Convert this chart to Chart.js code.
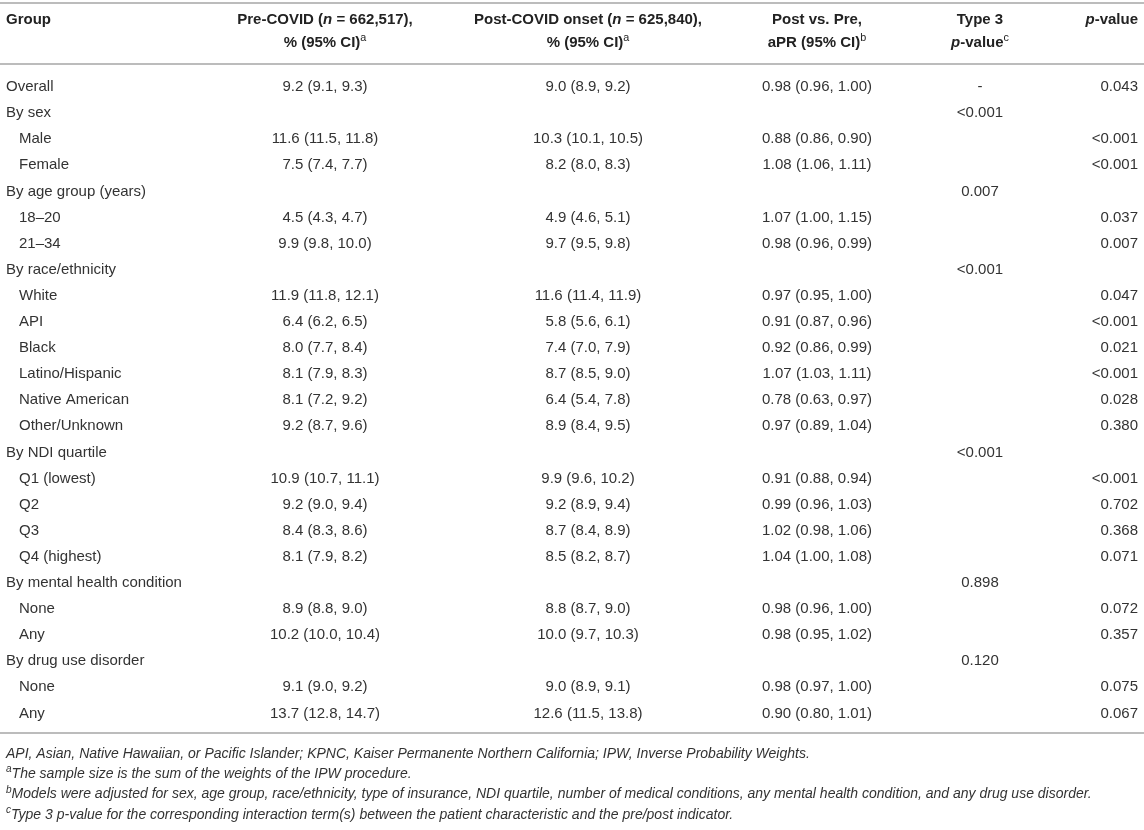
<!DOCTYPE html>
<html>
<head>
<meta charset="utf-8">
<script src="https://cdn.jsdelivr.net/npm/chart.js@4.4.1/dist/chart.umd.min.js"></script>
<style>
  html, body { margin: 0; padding: 0; background: #fff; }
  #wrap { width: 1144px; height: 830px; }
</style>
</head>
<body>
<div id="wrap"><canvas id="tableChart" width="1144" height="830"></canvas></div>
<script>
// rows of the table
const groups = ['Overall', 'By sex', 'Male', 'Female', 'By age group (years)', '18–20', '21–34',
  'By race/ethnicity', 'White', 'API', 'Black', 'Latino/Hispanic', 'Native American', 'Other/Unknown',
  'By NDI quartile', 'Q1 (lowest)', 'Q2', 'Q3', 'Q4 (highest)', 'By mental health condition', 'None', 'Any',
  'By drug use disorder', 'None', 'Any'];
const rowLevel = [0, 0, 1, 1, 0, 1, 1, 0, 1, 1, 1, 1, 1, 1, 0, 1, 1, 1, 1, 0, 1, 1, 0, 1, 1];

// pre-COVID %, 95% CI
const preEst = [9.2, null, 11.6, 7.5, null, 4.5, 9.9, null, 11.9, 6.4, 8.0, 8.1, 8.1, 9.2, null, 10.9, 9.2, 8.4, 8.1, null, 8.9, 10.2, null, 9.1, 13.7];
const preLo  = [9.1, null, 11.5, 7.4, null, 4.3, 9.8, null, 11.8, 6.2, 7.7, 7.9, 7.2, 8.7, null, 10.7, 9.0, 8.3, 7.9, null, 8.8, 10.0, null, 9.0, 12.8];
const preHi  = [9.3, null, 11.8, 7.7, null, 4.7, 10.0, null, 12.1, 6.5, 8.4, 8.3, 9.2, 9.6, null, 11.1, 9.4, 8.6, 8.2, null, 9.0, 10.4, null, 9.2, 14.7];

// post-COVID onset %, 95% CI
const postEst = [9.0, null, 10.3, 8.2, null, 4.9, 9.7, null, 11.6, 5.8, 7.4, 8.7, 6.4, 8.9, null, 9.9, 9.2, 8.7, 8.5, null, 8.8, 10.0, null, 9.0, 12.6];
const postLo  = [8.9, null, 10.1, 8.0, null, 4.6, 9.5, null, 11.4, 5.6, 7.0, 8.5, 5.4, 8.4, null, 9.6, 8.9, 8.4, 8.2, null, 8.7, 9.7, null, 8.9, 11.5];
const postHi  = [9.2, null, 10.5, 8.3, null, 5.1, 9.8, null, 11.9, 6.1, 7.9, 9.0, 7.8, 9.5, null, 10.2, 9.4, 8.9, 8.7, null, 9.0, 10.3, null, 9.1, 13.8];

// post vs pre aPR, 95% CI
const aprEst = [0.98, null, 0.88, 1.08, null, 1.07, 0.98, null, 0.97, 0.91, 0.92, 1.07, 0.78, 0.97, null, 0.91, 0.99, 1.02, 1.04, null, 0.98, 0.98, null, 0.98, 0.90];
const aprLo  = [0.96, null, 0.86, 1.06, null, 1.00, 0.96, null, 0.95, 0.87, 0.86, 1.03, 0.63, 0.89, null, 0.88, 0.96, 0.98, 1.00, null, 0.96, 0.95, null, 0.97, 0.80];
const aprHi  = [1.00, null, 0.90, 1.11, null, 1.15, 0.99, null, 1.00, 0.96, 0.99, 1.11, 0.97, 1.04, null, 0.94, 1.03, 1.06, 1.08, null, 1.00, 1.02, null, 1.00, 1.01];

const type3P = ['-', '<0.001', '', '', '0.007', '', '', '<0.001', '', '', '', '', '', '', '<0.001', '', '', '', '', '0.898', '', '', '0.120', '', ''];
const pValues = ['0.043', '', '<0.001', '<0.001', '', '0.037', '0.007', '', '0.047', '<0.001', '0.021', '<0.001', '0.028', '0.380', '',
  '<0.001', '0.702', '0.368', '0.071', '', '0.072', '0.357', '', '0.075', '0.067'];

// header cells: each line is a list of [text, style] pieces (b bold, i italic, s superscript)
const headers = [
  [[['Group', 'b']]],
  [[['Pre-COVID (', 'b'], ['n', 'bi'], [' = 662,517),', 'b']], [['% (95% CI)', 'b'], ['a', 's']]],
  [[['Post-COVID onset (', 'b'], ['n', 'bi'], [' = 625,840),', 'b']], [['% (95% CI)', 'b'], ['a', 's']]],
  [[['Post vs. Pre,', 'b']], [['aPR (95% CI)', 'b'], ['b', 's']]],
  [[['Type 3', 'b']], [['p', 'bi'], ['-value', 'b'], ['c', 's']]],
  [[['p', 'bi'], ['-value', 'b']]]
];
const footnotes = [
  [['API, Asian, Native Hawaiian, or Pacific Islander; KPNC, Kaiser Permanente Northern California; IPW, Inverse Probability Weights.', 'i']],
  [['a', 'si'], ['The sample size is the sum of the weights of the IPW procedure.', 'i']],
  [['b', 'si'], ['Models were adjusted for sex, age group, race/ethnicity, type of insurance, NDI quartile, number of medical conditions, any mental health condition, and any drug use disorder.', 'i']],
  [['c', 'si'], ['Type 3 p-value for the corresponding interaction term(s) between the patient characteristic and the pre/post indicator.', 'i']]
];

// layout
const colX = [6, 325, 588, 817, 980, 1138];
const colAlign = ['left', 'center', 'center', 'center', 'center', 'right'];
const indentX = 19;
const FONT = '"Liberation Sans", Arial, Helvetica, sans-serif';
const BODY = 15;

const ci = (e, l, h, d) => e == null ? '' : e.toFixed(d) + ' (' + l.toFixed(d) + ', ' + h.toFixed(d) + ')';

const cellText = [
  groups,
  groups.map((g, i) => ci(preEst[i], preLo[i], preHi[i], 1)),
  groups.map((g, i) => ci(postEst[i], postLo[i], postHi[i], 1)),
  groups.map((g, i) => ci(aprEst[i], aprLo[i], aprHi[i], 2)),
  type3P,
  pValues
];

const datasets = cellText.map((col, c) => ({
  label: 'col' + c,
  data: col.map((t, i) => ({ x: c === 0 && rowLevel[i] ? indentX : colX[c], y: i, text: t })),
  pointRadius: 0,
  showLine: false,
  align: colAlign[c]
}));

function fontFor(style, size) {
  const sup = style.includes('s');
  const px = sup ? size * 0.72 : size;
  return (style.includes('i') ? 'italic ' : '') + (style.includes('b') ? 'bold ' : '') + px + 'px ' + FONT;
}

function drawRich(ctx, pieces, x, y, align, size) {
  let w = 0;
  pieces.forEach(p => { ctx.font = fontFor(p[1], size); w += ctx.measureText(p[0]).width; });
  let cx = align === 'left' ? x : align === 'right' ? x - w : x - w / 2;
  ctx.textAlign = 'left';
  ctx.textBaseline = 'middle';
  pieces.forEach(p => {
    ctx.font = fontFor(p[1], size);
    const dy = p[1].includes('s') ? -size * 0.33 : 0;
    ctx.fillText(p[0], cx, y + dy);
    cx += ctx.measureText(p[0]).width;
  });
}

const tablePlugin = {
  id: 'tableText',
  afterDatasetsDraw(chart) {
    const ctx = chart.ctx;
    const area = chart.chartArea;
    ctx.save();

    // cells
    chart.data.datasets.forEach((ds, d) => {
      const meta = chart.getDatasetMeta(d);
      ctx.fillStyle = '#333333';
      ctx.font = BODY + 'px ' + FONT;
      ctx.textAlign = ds.align;
      ctx.textBaseline = 'middle';
      meta.data.forEach((pt, i) => {
        const t = ds.data[i].text;
        if (t) ctx.fillText(t, pt.x, pt.y);
      });
    });

    // rules
    ctx.strokeStyle = '#a6a6a6';
    ctx.lineWidth = 1.6;
    [3, area.top - 10, area.bottom + 6.5].forEach(y => {
      ctx.beginPath();
      ctx.moveTo(0, y);
      ctx.lineTo(chart.width, y);
      ctx.stroke();
    });

    // header
    const xs = chart.scales.x;
    ctx.fillStyle = '#222222';
    headers.forEach((lines, c) => {
      lines.forEach((line, l) => {
        drawRich(ctx, line, xs.getPixelForValue(colX[c]), 20 + l * 23, colAlign[c], BODY);
      });
    });

    // footnotes
    ctx.fillStyle = '#333333';
    footnotes.forEach((fn, k) => {
      drawRich(ctx, fn, xs.getPixelForValue(6), area.bottom + 27.5 + k * 20.3, 'left', 14);
    });
    ctx.restore();
  }
};

new Chart(document.getElementById('tableChart'), {
  type: 'scatter',
  data: { labels: groups, datasets: datasets },
  options: {
    responsive: false,
    animation: false,
    devicePixelRatio: 1,
    layout: { padding: { top: 74, bottom: 103.5, left: 0, right: 0 } },
    plugins: { legend: { display: false }, tooltip: { enabled: false } },
    scales: {
      x: { type: 'linear', min: 0, max: 1144, display: false },
      y: { type: 'category', labels: groups, offset: true, display: false }
    }
  },
  plugins: [tablePlugin]
});
</script>
</body>
</html>
